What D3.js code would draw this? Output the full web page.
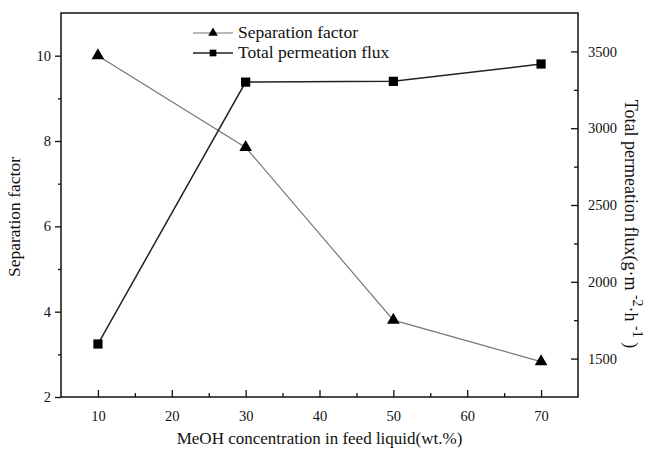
<!DOCTYPE html>
<html><head><meta charset="utf-8">
<script src="https://cdn.jsdelivr.net/npm/d3@7"></script>
<style>body{margin:0;background:#fff}svg{display:block}</style>
</head><body><svg id="c" width="645" height="450"></svg>
<script>
const concentration = [10, 30, 50, 70];
const separationFactor = [10.0, 7.85, 3.8, 2.83];
const totalFlux = [1595, 3300, 3305, 3418];
const xTicks = [10, 20, 30, 40, 50, 60, 70];
const leftTicks = [2, 4, 6, 8, 10];
const rightTicks = [1500, 2000, 2500, 3000, 3500];

const FONT = "'Liberation Serif', Tinos, 'Times New Roman', Times, 'DejaVu Serif', serif";
const svg = d3.select("#c").style("font-family", FONT);
const L = 61, R = 578, T = 13, B = 397;
const x = d3.scaleLinear().domain([5, 75]).range([L, R]);
const yL = d3.scaleLinear().domain([2, 11]).range([B, T]);
const yR = d3.scaleLinear().domain([1250, 3750]).range([B, T]);

svg.append("rect").attr("x", L).attr("y", T).attr("width", R - L).attr("height", B - T)
  .attr("fill", "none").attr("stroke", "#111").attr("stroke-width", 1.5);

const gx = svg.append("g").attr("transform", `translate(0,${B})`);
gx.call(d3.axisBottom(x).tickValues(xTicks).tickSize(-7).tickPadding(14).tickFormat(d3.format("d")));
gx.append("g").call(d3.axisBottom(x).tickValues(d3.range(15, 75, 10)).tickSize(-4).tickFormat(""));
const gl = svg.append("g").attr("transform", `translate(${L},0)`);
gl.call(d3.axisLeft(yL).tickValues(leftTicks).tickSize(6).tickPadding(4).tickFormat(d3.format("d")));
gl.append("g").call(d3.axisLeft(yL).tickValues([3, 5, 7, 9]).tickSize(3).tickFormat(""));
const gr = svg.append("g").attr("transform", `translate(${R},0)`);
gr.call(d3.axisRight(yR).tickValues(rightTicks).tickSize(-7).tickPadding(10).tickFormat(d3.format("d")));
gr.append("g").call(d3.axisRight(yR).tickValues([1750, 2250, 2750, 3250]).tickSize(-4).tickFormat(""));

svg.selectAll("g").attr("font-family", null);
svg.selectAll(".domain").remove();
svg.selectAll(".tick line").attr("stroke", "#111").attr("stroke-width", 1.3);
svg.selectAll(".tick text").style("font-family", FONT).attr("font-size", 14.5).attr("fill", "#111");

const sepData = concentration.map((c, i) => [c, separationFactor[i]]);
const fluxData = concentration.map((c, i) => [c, totalFlux[i]]);
svg.append("path").datum(sepData).attr("fill", "none").attr("stroke", "#777").attr("stroke-width", 1.2)
  .attr("d", d3.line().x(d => x(d[0])).y(d => yL(d[1])));
svg.append("path").datum(fluxData).attr("fill", "none").attr("stroke", "#222").attr("stroke-width", 1.5)
  .attr("d", d3.line().x(d => x(d[0])).y(d => yR(d[1])));

const tri = d3.symbol().type(d3.symbolTriangle).size(70);
const sq = d3.symbol().type(d3.symbolSquare).size(85);
svg.selectAll(".tri").data(sepData).join("path").attr("d", tri)
  .attr("transform", d => `translate(${x(d[0])},${yL(d[1])})`).attr("fill", "#000");
svg.selectAll(".sq").data(fluxData).join("path").attr("d", sq)
  .attr("transform", d => `translate(${x(d[0])},${yR(d[1])})`).attr("fill", "#000");

const leg = [
  ["Separation factor", d3.symbol().type(d3.symbolTriangle).size(40), "#777", 1.2, 33],
  ["Total permeation flux", d3.symbol().type(d3.symbolSquare).size(45), "#222", 1.5, 53]
];
leg.forEach(([label, sym, col, w, yy]) => {
  svg.append("line").attr("x1", 193).attr("x2", 233).attr("y1", yy).attr("y2", yy).attr("stroke", col).attr("stroke-width", w);
  svg.append("path").attr("d", sym()).attr("transform", `translate(213,${yy})`).attr("fill", "#000");
  svg.append("text").attr("x", 238).attr("y", yy + 5).attr("font-size", 17.5).style("font-family", FONT).attr("fill", "#111").text(label);
});

svg.append("text").attr("x", (L + R) / 2).attr("y", 444).attr("text-anchor", "middle").attr("font-size", 17)
  .style("font-family", FONT).attr("fill", "#111").text("MeOH concentration in feed liquid(wt.%)");
svg.append("text").attr("transform", "translate(20,217) rotate(-90)").attr("text-anchor", "middle").attr("font-size", 17.5)
  .style("font-family", FONT).attr("fill", "#111").text("Separation factor");
const rt = svg.append("text").attr("transform", "translate(625,224) rotate(90)").attr("text-anchor", "middle")
  .attr("font-size", 18).style("font-family", FONT).attr("fill", "#111");
rt.append("tspan").text("Total permeation flux(g·m ");
rt.append("tspan").attr("dy", -8).attr("font-size", 14).text("-2");
rt.append("tspan").attr("dy", 8).text("·h ");
rt.append("tspan").attr("dy", -8).attr("font-size", 14).text("-1");
rt.append("tspan").attr("dy", 8).text(" )");
</script></body></html>
